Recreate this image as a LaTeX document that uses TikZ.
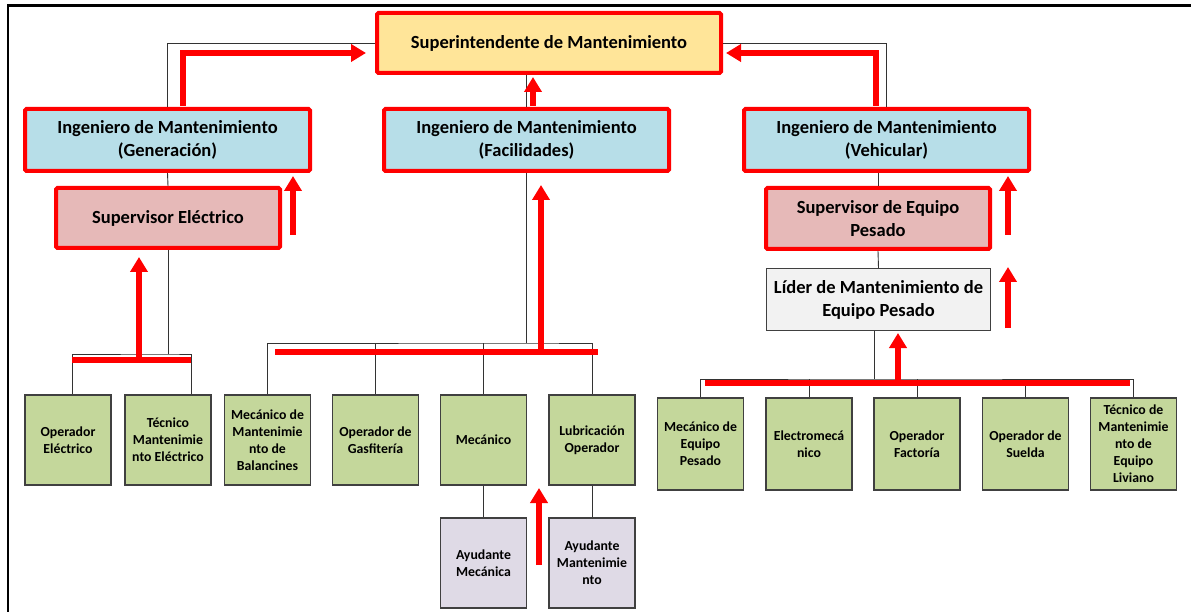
\documentclass[tikz,border=0pt]{standalone}
\usepackage{fontspec}
\setmainfont{Carlito}
\usetikzlibrary{arrows.meta,calc}

\definecolor{topfill}{HTML}{FFE599}
\definecolor{engfill}{HTML}{B7DEE8}
\definecolor{supfill}{HTML}{E6B9B8}
\definecolor{leadfill}{HTML}{F2F2F2}
\definecolor{jobfill}{HTML}{C4D79B}
\definecolor{helpfill}{HTML}{DFDAE6}
\definecolor{hred}{HTML}{FF0000}

\tikzset{
  redbox/.style={draw=hred, line width=4pt, rounded corners=1.5pt, align=center,
    inner sep=0pt, font=\bfseries\fontsize{18.5}{23}\selectfont, text=black},
  leadbox/.style={draw=black!75, line width=1pt, fill=leadfill, align=center,
    inner sep=0pt, font=\bfseries\fontsize{18.5}{23}\selectfont, text=black,
    minimum width=224pt, minimum height=62pt},
  jobbox/.style={draw=black!75, line width=1.1pt, fill=jobfill, align=center,
    inner sep=0pt, font=\bfseries\fontsize{13.8}{17}\selectfont, text=black,
    minimum width=86pt, minimum height=90pt},
  helpbox/.style={jobbox, fill=helpfill},
  conn/.style={draw=black!80, line width=0.9pt},
  redarrow/.style={draw=hred, line width=5.5pt, -{Triangle[length=15pt,width=17pt]}},
  redbar/.style={draw=hred, line width=6.5pt}
}

\begin{document}
\begin{tikzpicture}[x=1pt,y=-1pt]
\useasboundingbox[fill=white] (0,0) rectangle (1191,612);

% page frame (left and top edges)
\draw[line width=2.5pt] (8,612) -- (8,5.5) -- (1191,5.5);

% management boxes
\node[redbox, fill=topfill, minimum width=344pt, minimum height=60pt] (sup) at (549,43) {Superintendente de Mantenimiento};
\node[redbox, fill=engfill, minimum width=285pt, minimum height=62pt] (gen) at (167.5,140) {Ingeniero de Mantenimiento\\(Generación)};
\node[redbox, fill=engfill, minimum width=285pt, minimum height=62pt] (fac) at (526.5,140) {Ingeniero de Mantenimiento\\(Facilidades)};
\node[redbox, fill=engfill, minimum width=285pt, minimum height=62pt] (veh) at (886.5,140) {Ingeniero de Mantenimiento\\(Vehicular)};
\node[redbox, fill=supfill, minimum width=224pt, minimum height=60pt] (supel) at (168,218) {Supervisor Eléctrico};
\node[redbox, fill=supfill, minimum width=224pt, minimum height=61pt] (supeq) at (878,218.5) {Supervisor de Equipo\\Pesado};
\node[leadbox] (lider) at (878.5,299.5) {Líder de Mantenimiento de\\Equipo Pesado};

% staff boxes
\node[jobbox] (opel) at (68,440) {Operador\\Eléctrico};
\node[jobbox] (tecel) at (168,440) {Técnico\\Mantenimie\\nto Eléctrico};
\node[jobbox] (bal) at (267.5,440) {Mecánico de\\Mantenimie\\nto de\\Balancines};
\node[jobbox] (gas) at (375.5,440) {Operador de\\Gasfitería};
\node[jobbox] (mec) at (483.5,440) {Mecánico};
\node[jobbox] (lub) at (592,440) {Lubricación\\Operador};
\node[helpbox] (ayme) at (483.5,563) {Ayudante\\Mecánica};
\node[helpbox] (aymt) at (592,563) {Ayudante\\Mantenimie\\nto};

\node[jobbox, minimum height=92pt] (mep) at (700.5,444) {Mecánico de\\Equipo\\Pesado};
\node[jobbox, minimum height=92pt] (elm) at (809,444) {Electromecá\\nico};
\node[jobbox, minimum height=92pt] (opf) at (917,444) {Operador\\Factoría};
\node[jobbox, minimum height=92pt] (ops) at (1025.5,444) {Operador de\\Suelda};
\node[jobbox, minimum height=92pt] (tml) at (1133.5,444) {Técnico de\\Mantenimie\\nto de\\Equipo\\Liviano};

% reporting lines
\draw[conn] (gen.north) |- (sup.west);
\draw[conn] (veh.north) |- (sup.east);
\draw[conn] (fac.north) -- (fac.north |- sup.south);
\draw[conn] (gen.south) -- (supel.north);
\draw[conn] (supeq.north |- veh.south) -- (supeq.north);
\draw[conn] (supeq.south) -- (lider.north);

\coordinate (b1) at (168,354);
\draw[conn] (supel.south) -- (b1);
\draw[conn] ($(opel.north)+(4,0)$) |- (b1) -| ($(tecel.north)+(23,0)$);

\coordinate (b2) at (526.5,343);
\draw[conn] (fac.south) -- (b2);
\draw[conn] (bal.north) |- (b2) -| (lub.north);
\draw[conn] (gas.north) -- (gas.north |- b2);
\draw[conn] (mec.north) -- (mec.north |- b2);
\draw[conn] (mec.south) -- (ayme.north);
\draw[conn] (lub.south) -- (aymt.north);

\coordinate (b3) at (874,379);
\draw[conn] ($(lider.south)+(-4.5,0)$) -- (b3);
\draw[conn] (mep.north) |- (b3) -| (tml.north);
\draw[conn] (elm.north) -- (elm.north |- b3);
\draw[conn] (opf.north) -- (opf.north |- b3);
\draw[conn] (ops.north) -- (ops.north |- b3);

% red flow arrows
\draw[redarrow] ($(gen.north)+(15.5,-1)$) |- ($(sup.west)+(-9,10)$);
\draw[redarrow] ($(veh.north)+(-10.5,-1)$) |- ($(sup.east)+(3,10)$);
\draw[redarrow] ($(fac.north)+(6.5,-1)$) -- ($(fac.north |- sup.south)+(6.5,2)$);

\coordinate (r1a) at (293,235);  \coordinate (r1b) at (293,176);
\coordinate (r2a) at (541,349);  \coordinate (r2b) at (541,185);
\coordinate (r3a) at (139,357);  \coordinate (r3b) at (139,257);
\coordinate (r4a) at (539,565);  \coordinate (r4b) at (539,488);
\coordinate (r5a) at (1008,235); \coordinate (r5b) at (1008,176);
\coordinate (r6a) at (1008,328); \coordinate (r6b) at (1008,267);
\coordinate (r7a) at (898,381);  \coordinate (r7b) at (898,333);
\foreach \a/\b in {r1a/r1b,r2a/r2b,r3a/r3b,r4a/r4b,r5a/r5b,r6a/r6b,r7a/r7b}
  \draw[redarrow] (\a) -- (\b);

% red bars across the team brackets
\coordinate (k1a) at (72,360);  \coordinate (k1b) at (191,360);
\coordinate (k2a) at (275,352); \coordinate (k2b) at (598,352);
\coordinate (k3a) at (705,383); \coordinate (k3b) at (1130,383);
\draw[redbar] (k1a) -- (k1b);
\draw[redbar] (k2a) -- (k2b);
\draw[redbar] (k3a) -- (k3b);
\end{tikzpicture}
\end{document}
